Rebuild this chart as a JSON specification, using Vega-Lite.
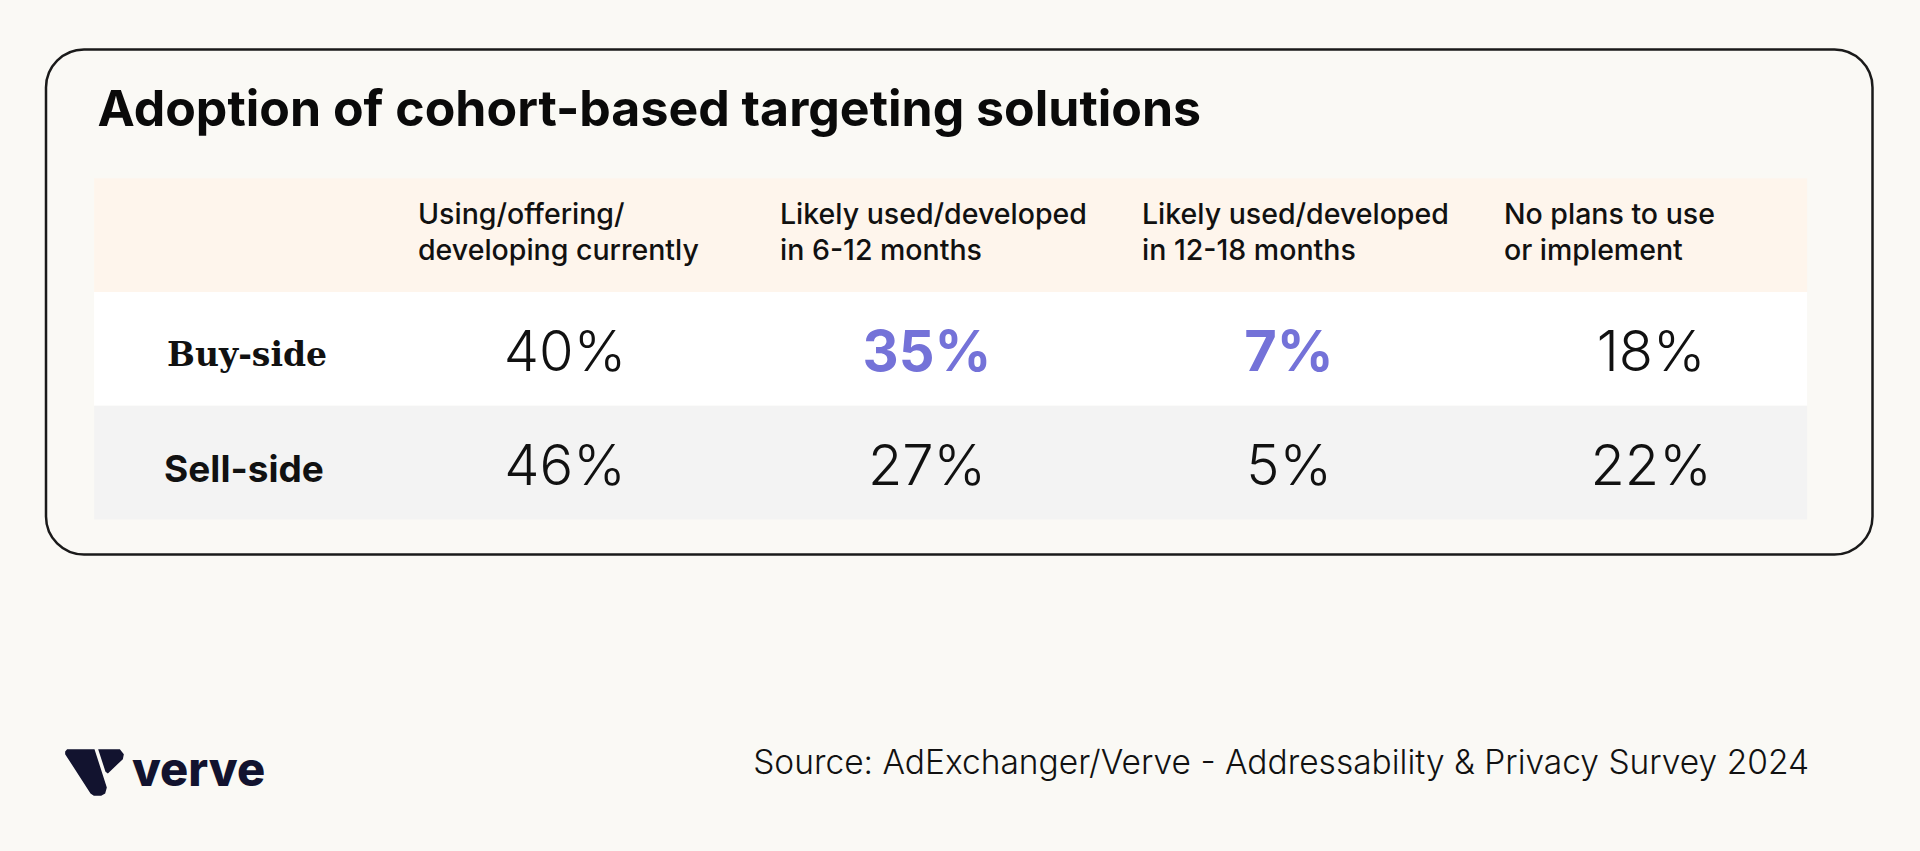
{
  "$schema": "https://vega.github.io/schema/vega-lite/v6.json",
  "background": "#FAF9F5",
  "padding": {"left": 44, "top": 47.5, "right": 60, "bottom": 60},
  "autosize": {"type": "pad"},
  "spacing": 185,
  "config": {
    "view": {"stroke": null},
    "axis": {"disable": true},
    "legend": {"disable": true},
    "text": {"font": "Inter"}
  },
  "datasets": {
    "rows": [
      {"row": "header"},
      {"row": "Buy-side"},
      {"row": "Sell-side"}
    ],
    "columns": [
      {"col": "current", "label": "Using/offering/\ndeveloping currently"},
      {"col": "6-12", "label": "Likely used/developed\nin 6-12 months"},
      {"col": "12-18", "label": "Likely used/developed\nin 12-18 months"},
      {"col": "none", "label": "No plans to use\nor implement"}
    ],
    "cells": [
      {"row": "Buy-side", "col": "current", "share": 0.40, "highlight": false},
      {"row": "Buy-side", "col": "6-12", "share": 0.35, "highlight": true},
      {"row": "Buy-side", "col": "12-18", "share": 0.07, "highlight": true},
      {"row": "Buy-side", "col": "none", "share": 0.18, "highlight": false},
      {"row": "Sell-side", "col": "current", "share": 0.46, "highlight": false},
      {"row": "Sell-side", "col": "6-12", "share": 0.27, "highlight": false},
      {"row": "Sell-side", "col": "12-18", "share": 0.05, "highlight": false},
      {"row": "Sell-side", "col": "none", "share": 0.22, "highlight": false}
    ],
    "footer": [
      {"item": "brand", "text": "verve"},
      {"item": "source", "text": "Source: AdExchanger/Verve - Addressability & Privacy Survey 2024"}
    ]
  },
  "vconcat": [
    {
      "width": 1826.5,
      "height": 505,
      "view": {"stroke": "#1a1a1a", "strokeWidth": 2.5, "cornerRadius": 38, "fill": "#FAF9F5"},
      "title": {
        "text": "Adoption of cohort-based targeting solutions",
        "anchor": "start",
        "frame": "group",
        "orient": "top",
        "offset": -126,
        "dx": 51.5,
        "baseline": "alphabetic",
        "font": "Inter",
        "fontSize": 50,
        "fontWeight": 700,
        "color": "#0a0a0a"
      },
      "layer": [
        {
          "data": {"name": "rows"},
          "encoding": {
            "x": {"datum": "table", "type": "nominal", "scale": {"type": "band", "domain": ["table"], "paddingInner": 0, "paddingOuter": 0.03313, "align": 0.4238}, "axis": null},
            "y": {"field": "row", "type": "nominal", "scale": {"type": "band", "domain": ["header", "Buy-side", "Sell-side"], "paddingInner": 0, "paddingOuter": 0.7201, "align": 0.7857}, "axis": null}
          },
          "layer": [
            {
              "mark": {"type": "rect"},
              "encoding": {
                "color": {"field": "row", "type": "nominal", "scale": {"domain": ["header", "Buy-side", "Sell-side"], "range": ["#FEF5EC", "#FFFFFF", "#F3F3F3"]}, "legend": null}
              }
            },
            {
              "transform": [{"filter": "datum.row == 'Buy-side'"}],
              "mark": {"type": "text", "align": "left", "baseline": "alphabetic", "dx": 73, "dy": 17.4, "font": "DejaVu Serif", "fontWeight": "bold", "fontSize": 33, "color": "#111111"},
              "encoding": {
                "x": {"datum": "table", "type": "nominal", "bandPosition": 0},
                "text": {"field": "row"}
              }
            },
            {
              "transform": [{"filter": "datum.row == 'Sell-side'"}],
              "mark": {"type": "text", "align": "left", "baseline": "alphabetic", "dx": 70, "dy": 19.3, "font": "Inter", "fontWeight": 700, "fontSize": 37, "color": "#111111"},
              "encoding": {
                "x": {"datum": "table", "type": "nominal", "bandPosition": 0},
                "text": {"field": "row"}
              }
            }
          ]
        },
        {
          "layer": [
            {
              "data": {"name": "columns"},
              "mark": {"type": "text", "align": "left", "baseline": "middle", "dx": -147, "dy": -20, "lineBreak": "\n", "lineHeight": 36, "font": "Inter", "fontWeight": 500, "fontSize": 28.5, "color": "#111111"},
              "encoding": {
                "x": {"field": "col", "type": "nominal", "scale": {"type": "band", "domain": ["current", "6-12", "12-18", "none"], "paddingInner": 0, "paddingOuter": 0.5228, "align": 0.893}, "axis": null},
                "y": {"datum": "header", "type": "nominal", "scale": {"type": "band", "domain": ["header", "Buy-side", "Sell-side"], "paddingInner": 0, "paddingOuter": 0.7201, "align": 0.7857}, "axis": null},
                "text": {"field": "label"}
              }
            },
            {
              "data": {"name": "cells"},
              "transform": [{"filter": "!datum.highlight"}],
              "mark": {"type": "text", "align": "center", "baseline": "alphabetic", "dy": 22, "font": "Inter", "fontWeight": 300, "fontSize": 56, "color": "#111111"},
              "encoding": {
                "x": {"field": "col", "type": "nominal", "scale": {"type": "band", "domain": ["current", "6-12", "12-18", "none"], "paddingInner": 0, "paddingOuter": 0.5228, "align": 0.893}, "axis": null},
                "y": {"field": "row", "type": "nominal", "scale": {"type": "band", "domain": ["header", "Buy-side", "Sell-side"], "paddingInner": 0, "paddingOuter": 0.7201, "align": 0.7857}, "axis": null},
                "text": {"field": "share", "type": "quantitative", "format": ".0%"}
              }
            },
            {
              "data": {"name": "cells"},
              "transform": [{"filter": "datum.highlight"}],
              "mark": {"type": "text", "align": "center", "baseline": "alphabetic", "dy": 22, "font": "Inter", "fontWeight": 700, "fontSize": 56, "color": "#7472D8"},
              "encoding": {
                "x": {"field": "col", "type": "nominal", "scale": {"type": "band", "domain": ["current", "6-12", "12-18", "none"], "paddingInner": 0, "paddingOuter": 0.5228, "align": 0.893}, "axis": null},
                "y": {"field": "row", "type": "nominal", "scale": {"type": "band", "domain": ["header", "Buy-side", "Sell-side"], "paddingInner": 0, "paddingOuter": 0.7201, "align": 0.7857}, "axis": null},
                "text": {"field": "share", "type": "quantitative", "format": ".0%"}
              }
            }
          ]
        }
      ],
      "resolve": {"scale": {"x": "independent"}}
    },
    {
      "width": 1760.5,
      "height": 60,
      "data": {"name": "footer"},
      "encoding": {
        "x": {"field": "item", "type": "nominal", "scale": {"type": "point", "domain": ["brand", "source"], "padding": 0}, "axis": null}
      },
      "layer": [
        {
          "transform": [{"filter": "datum.item == 'brand'"}],
          "mark": {"type": "point", "shape": "M-0.932,-0.795L0,-0.795L0.42,0.511L0.364,0.716L0.227,0.795L-0.023,0.795L-0.136,0.716L-1,-0.625L-1,-0.716ZM0.125,-0.795L0.864,-0.795L1,-0.625L0.966,-0.455L0.455,0.034L0.375,-0.023Z", "size": 3445, "filled": true, "color": "#12132F", "opacity": 1, "strokeWidth": 0, "xOffset": 48.5, "yOffset": 1}
        },
        {
          "transform": [{"filter": "datum.item == 'brand'"}],
          "mark": {"type": "text", "align": "left", "baseline": "alphabetic", "dx": 86, "dy": 14.5, "font": "Inter", "fontWeight": 800, "fontSize": 47, "color": "#12132F"},
          "encoding": {"text": {"field": "text"}}
        },
        {
          "transform": [{"filter": "datum.item == 'source'"}],
          "mark": {"type": "text", "align": "right", "baseline": "alphabetic", "dx": 2.5, "dy": 2, "font": "Inter", "fontWeight": 300, "fontSize": 33.5, "color": "#111111"},
          "encoding": {"text": {"field": "text"}}
        }
      ]
    }
  ]
}
